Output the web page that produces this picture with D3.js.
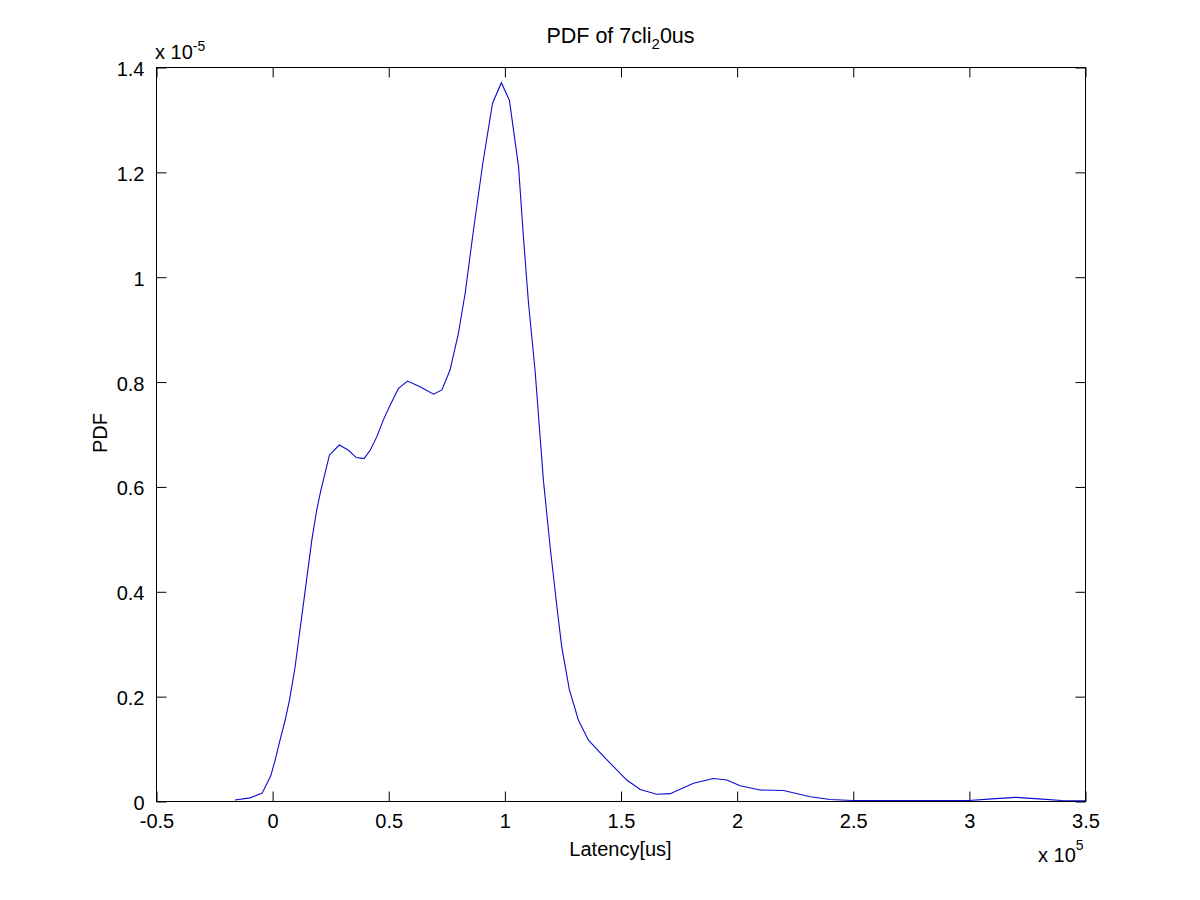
<!DOCTYPE html>
<html><head><meta charset="utf-8">
<script src="https://cdn.jsdelivr.net/npm/d3@7/dist/d3.min.js"></script>
<style>body{margin:0;background:#fff}svg text{font-family:"Liberation Sans",Arial,sans-serif;fill:#000}</style>
</head><body>
<svg id="c" width="1200" height="900"></svg>
<script>
// Latency in units of 1e5 us, PDF in units of 1e-5
const latency = [-0.16,-0.095,-0.043,-0.006,0.013,0.034,0.056,0.075,0.099,0.135,0.171,0.192,0.21,0.247,0.289,0.329,0.362,0.396,0.422,0.451,0.479,0.508,0.544,0.583,0.637,0.695,0.731,0.766,0.802,0.831,0.867,0.907,0.949,0.987,1.022,1.061,1.082,1.104,1.132,1.168,1.197,1.226,1.247,1.28,1.319,1.362,1.427,1.527,1.585,1.656,1.714,1.814,1.9,1.958,2.015,2.101,2.202,2.317,2.403,2.5,3.0,3.1,3.2,3.3,3.4,3.5];
const pdf = [0.002,0.006,0.015,0.048,0.078,0.116,0.154,0.193,0.256,0.377,0.498,0.555,0.593,0.66,0.679,0.669,0.655,0.653,0.669,0.695,0.727,0.755,0.787,0.801,0.79,0.776,0.784,0.822,0.892,0.968,1.089,1.216,1.331,1.37,1.336,1.21,1.076,0.949,0.822,0.612,0.485,0.371,0.294,0.212,0.154,0.116,0.085,0.04,0.022,0.013,0.014,0.034,0.043,0.04,0.029,0.021,0.02,0.008,0.003,0.001,0.001,0.004,0.007,0.004,0.001,0.0005];
const xTicks = [-0.5,0,0.5,1,1.5,2,2.5,3,3.5];
const yTicks = [0,0.2,0.4,0.6,0.8,1,1.2,1.4];

const L=156,R=1085,T=67,B=801;
const FS=20;
const svg=d3.select("#c");
const x=d3.scaleLinear().domain([-0.5,3.5]).range([L,R]);
const y=d3.scaleLinear().domain([0,1.4]).range([B,T]);
const fmt=d=>String(d);
const tl=10;

// frame
svg.append("rect").attr("x",L+0.5).attr("y",T+0.5).attr("width",R-L).attr("height",B-T)
  .attr("fill","none").attr("stroke","#000").attr("stroke-width",1);

// axes (ticks inward on all four sides)
const gb=svg.append("g").attr("transform",`translate(0.5,${B+0.5})`)
  .call(d3.axisBottom(x).tickValues(xTicks).tickFormat(fmt).tickSizeInner(-tl).tickSizeOuter(0).tickPadding(14));
const gt=svg.append("g").attr("transform",`translate(0.5,${T+0.5})`)
  .call(d3.axisTop(x).tickValues(xTicks).tickFormat("").tickSizeInner(-tl).tickSizeOuter(0));
const gl=svg.append("g").attr("transform",`translate(${L+0.5},0.5)`)
  .call(d3.axisLeft(y).tickValues(yTicks).tickFormat(fmt).tickSizeInner(-tl).tickSizeOuter(0).tickPadding(12));
const gr=svg.append("g").attr("transform",`translate(${R+0.5},0.5)`)
  .call(d3.axisRight(y).tickValues(yTicks).tickFormat("").tickSizeInner(-tl).tickSizeOuter(0));
[gb,gt,gl,gr].forEach(g=>{g.select(".domain").remove();g.selectAll("line").attr("stroke","#000");
  g.selectAll("text").attr("font-size",FS).attr("font-family","Liberation Sans, Arial, sans-serif").attr("fill","#000");});
gb.selectAll("text").attr("y",12).attr("dy","0.71em");
gl.selectAll("text").attr("dy","0.4em");

// curve
const pts=latency.map((d,i)=>[d,pdf[i]]);
svg.append("path").datum(pts)
  .attr("d",d3.line().x(d=>x(d[0])).y(d=>y(d[1])))
  .attr("fill","none").attr("stroke","#0a0ad0").attr("stroke-width",1.1);

// title
const t=svg.append("text").attr("x",620.5).attr("y",43).attr("text-anchor","middle").attr("font-size",21.5);
t.append("tspan").text("PDF of 7cli");
t.append("tspan").attr("dy",6).attr("font-size",15).text("2");
t.append("tspan").attr("dy",-6).text("0us");

// axis labels
svg.append("text").attr("x",620.5).attr("y",856).attr("text-anchor","middle").attr("font-size",FS).text("Latency[us]");
svg.append("text").attr("transform","translate(107,433) rotate(-90)").attr("text-anchor","middle").attr("font-size",FS).text("PDF");

// exponent labels
const ey=svg.append("text").attr("x",155).attr("y",59).attr("font-size",FS);
ey.append("tspan").text("x 10");
ey.append("tspan").attr("dy",-8).attr("font-size",14).text("-5");
const ex=svg.append("text").attr("x",1038).attr("y",862).attr("font-size",FS);
ex.append("tspan").text("x 10");
ex.append("tspan").attr("dy",-12).attr("font-size",14).text("5");
</script>
</body></html>
